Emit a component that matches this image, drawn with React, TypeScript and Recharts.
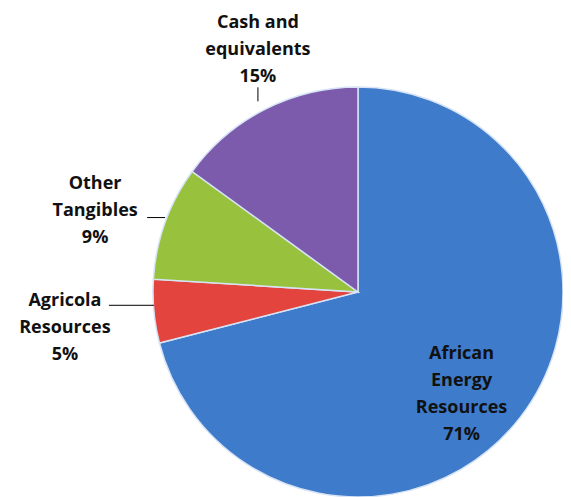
import { PieChart, Pie, Cell } from 'recharts';

const NAMES = ['African Energy Resources', 'Agricola Resources', 'Other Tangibles', 'Cash and equivalents'];
const LABEL_LINES = [
  ['African', 'Energy', 'Resources'],
  ['Agricola', 'Resources'],
  ['Other', 'Tangibles'],
  ['Cash and', 'equivalents'],
];
const VALUES = [71, 5, 9, 15];
const COLORS = ['#3e7bcb', '#e3443d', '#98c23d', '#7d5bac'];

const data = NAMES.map((name, i) => ({ name, value: VALUES[i] }));

// label placement relative to the slice's outer edge point (or inner point for inside labels)
const LABEL_POS = [
  { inside: true, r: 145, dx: -11, dy: 12 },
  { inside: false, dx: -89, dy: 15 },
  { inside: false, dx: -70, dy: -13 },
  { inside: false, dx: -7, dy: -61 },
];

const LINE_H = 27;
const RAD = Math.PI / 180;

const renderLabel = (props: any) => {
  const { cx, cy, midAngle, outerRadius, index, value } = props;
  const cfg = LABEL_POS[index];
  const lines = [...LABEL_LINES[index], `${value}%`];
  const cos = Math.cos(-midAngle * RAD);
  const sin = Math.sin(-midAngle * RAD);
  const r = cfg.inside ? cfg.r! : outerRadius;
  const ax = cx + r * cos;
  const ay = cy + r * sin;
  const tx = ax + cfg.dx;
  const ty = ay + cfg.dy;
  const top = ty - ((lines.length - 1) * LINE_H) / 2;

  let leader = null;
  if (index === 3) {
    leader = <line x1={tx} y1={top + (lines.length - 1) * LINE_H + 12} x2={tx} y2={ay - 8} stroke="#000" strokeWidth={1} />;
  } else if (index === 2) {
    leader = <line x1={tx + 52} y1={top + LINE_H + 8} x2={ax} y2={top + LINE_H + 8} stroke="#000" strokeWidth={1} />;
  } else if (index === 1) {
    leader = <line x1={tx + 44} y1={top + 6} x2={ax} y2={top + 6} stroke="#000" strokeWidth={1} />;
  }

  return (
    <g>
      {leader}
      <text
        x={tx}
        y={top}
        textAnchor="middle"
        fill="#111"
        fontFamily="'Open Sans', Lato, sans-serif"
        fontWeight={700}
        fontSize={18}
      >
        {lines.map((l, i) => (
          <tspan key={i} x={tx} dy={i === 0 ? '0.35em' : LINE_H}>
            {l}
          </tspan>
        ))}
      </text>
    </g>
  );
};

export default function App() {
  return (
    <div style={{ width: 563, height: 489, background: '#fff' }}>
      <PieChart width={563} height={489} margin={{ top: 0, right: 0, bottom: 0, left: 0 }}>
        <Pie
          data={data}
          dataKey="value"
          nameKey="name"
          cx={350}
          cy={284}
          outerRadius={205}
          startAngle={90}
          endAngle={-270}
          stroke="#d6e4f5"
          strokeWidth={1.5}
          label={renderLabel}
          labelLine={false}
          isAnimationActive={false}
        >
          {data.map((d, i) => (
            <Cell key={d.name} fill={COLORS[i]} />
          ))}
        </Pie>
      </PieChart>
    </div>
  );
}
